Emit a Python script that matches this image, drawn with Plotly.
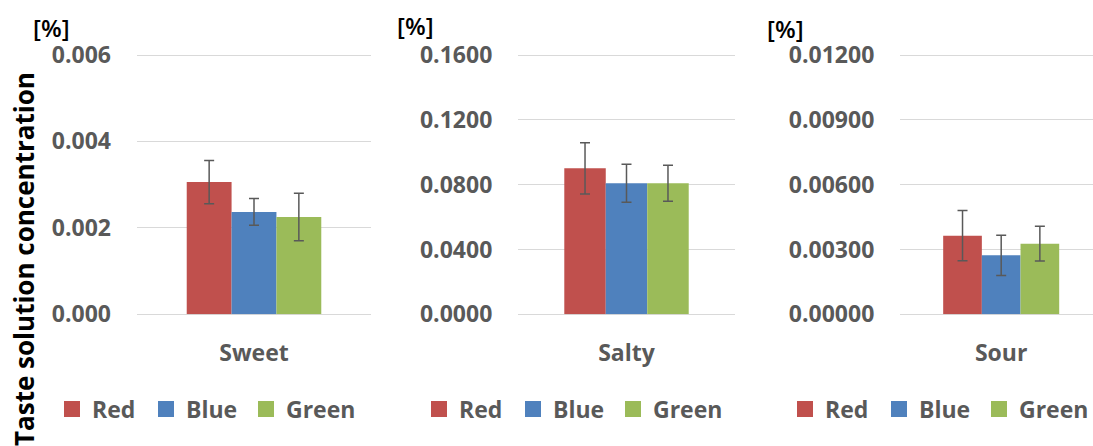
import plotly.graph_objects as go

categories = ["Sweet", "Salty", "Sour"]
series_names = ["Red", "Blue", "Green"]
series_colors = ["#C0504D", "#4F81BD", "#9BBB59"]
red_vals = [0.00306, 0.0901, 0.00364]
red_err = [0.00050, 0.0158, 0.00116]
blue_vals = [0.00237, 0.0809, 0.00273]
blue_err = [0.00031, 0.0117, 0.00093]
green_vals = [0.00225, 0.0809, 0.00327]
green_err = [0.00055, 0.0111, 0.00080]
y_max = [0.006, 0.16, 0.012]
y_dticks = [0.002, 0.04, 0.003]
y_formats = [".3f", ".4f", ".5f"]
unit_label = "[%]"
y_title = "Taste solution concentration"

W, H = 1093, 446
FONT = "Open Sans"
GREY = "#595959"

vals = [red_vals, blue_vals, green_vals]
errs = [red_err, blue_err, green_err]
legend_widths = [49, 55, 80]

# panel geometry (pixels)
x_domains_px = [(137, 371), (518.3, 734.7), (900.3, 1093)]
x_ranges = [[-0.5, 0.5], [-0.5, 0.5], [-0.5, 0.455]]
y_bottom_px, y_top_px, pad_px = 314.3, 55.0, 3.0
plot_h = y_bottom_px - y_top_px
y_dom = [(H - y_bottom_px) / H, (H - y_top_px + pad_px) / H]
legend_x_px = [52, 419, 785]
unit_pos = [(51, 27.5), (415.5, 25.3), (785, 29)]

fig = go.Figure()
for p, cat in enumerate(categories):
    sfx = "" if p == 0 else str(p + 1)
    xa, ya = "x" + sfx, "y" + sfx
    lg = "legend" if p == 0 else "legend" + str(p + 1)
    for s in range(3):
        fig.add_trace(go.Bar(
            x=[cat], y=[vals[s][p]], name=series_names[s],
            marker=dict(color=series_colors[s], line=dict(width=0)),
            error_y=dict(type="data", array=[errs[s][p]], visible=True,
                         color=GREY, thickness=1.5, width=5),
            xaxis=xa, yaxis=ya, showlegend=False, hoverinfo="skip",
        ))
    for s in range(3):
        fig.add_trace(go.Scatter(
            x=[None], y=[None], mode="markers", name=series_names[s],
            marker=dict(symbol="square", size=16, color=series_colors[s],
                        line=dict(width=0)),
            xaxis=xa, yaxis=ya, legend=lg, showlegend=True,
            legendwidth=legend_widths[s],
        ))

layout = dict(
    width=W, height=H, autosize=False,
    margin=dict(l=0, r=0, t=0, b=0, autoexpand=False),
    paper_bgcolor="white", plot_bgcolor="white",
    bargap=0.425, bargroupgap=0, barmode="group",
    font=dict(family=FONT, color=GREY),
)
for p in range(3):
    sfx = "" if p == 0 else str(p + 1)
    x0, x1 = x_domains_px[p]
    top = y_max[p] * (plot_h + pad_px) / plot_h
    layout["xaxis" + sfx] = dict(
        domain=[x0 / W, min(x1 / W, 1.0)], range=x_ranges[p],
        anchor="y" + sfx, showgrid=False, zeroline=False, showline=False,
        ticks="", ticklabelstandoff=23, automargin=False,
        tickfont=dict(family=FONT, size=23, color=GREY, weight="bold"),
        fixedrange=True,
    )
    layout["yaxis" + sfx] = dict(
        domain=y_dom, range=[0, top], dtick=y_dticks[p], tick0=0,
        tickformat=y_formats[p], anchor="x" + sfx,
        showgrid=True, gridcolor="#D9D9D9", gridwidth=1,
        zeroline=True, zerolinecolor="#D9D9D9", zerolinewidth=1,
        showline=False, ticks="", ticklabelstandoff=25, automargin=False,
        tickfont=dict(family=FONT, size=23, color=GREY, weight="bold"),
        fixedrange=True,
    )
    lg = "legend" if p == 0 else "legend" + str(p + 1)
    layout[lg] = dict(
        orientation="h", x=legend_x_px[p] / W, xanchor="left",
        y=(H - 409) / H, yanchor="middle",
        font=dict(family=FONT, size=23, color=GREY, weight="bold"),
        bgcolor="rgba(0,0,0,0)", borderwidth=0, itemclick=False,
    )
fig.update_layout(**layout)

annotations = [dict(
    text=y_title, textangle=-90, xref="paper", yref="paper",
    x=24 / W, y=(H - 259) / H, xanchor="center", yanchor="middle",
    showarrow=False, font=dict(family=FONT, size=26, color="black", weight="bold"),
)]
for (ux, uy) in unit_pos:
    annotations.append(dict(
        text=unit_label, xref="paper", yref="paper",
        x=ux / W, y=(H - uy) / H, xanchor="center", yanchor="middle",
        showarrow=False, font=dict(family=FONT, size=24, color="black", weight=600),
    ))
fig.update_layout(annotations=annotations)

fig.write_html(
    "out.html",
    config={"displayModeBar": False},
    post_script="document.body.style.margin='0';document.body.style.overflow='hidden';",
)
